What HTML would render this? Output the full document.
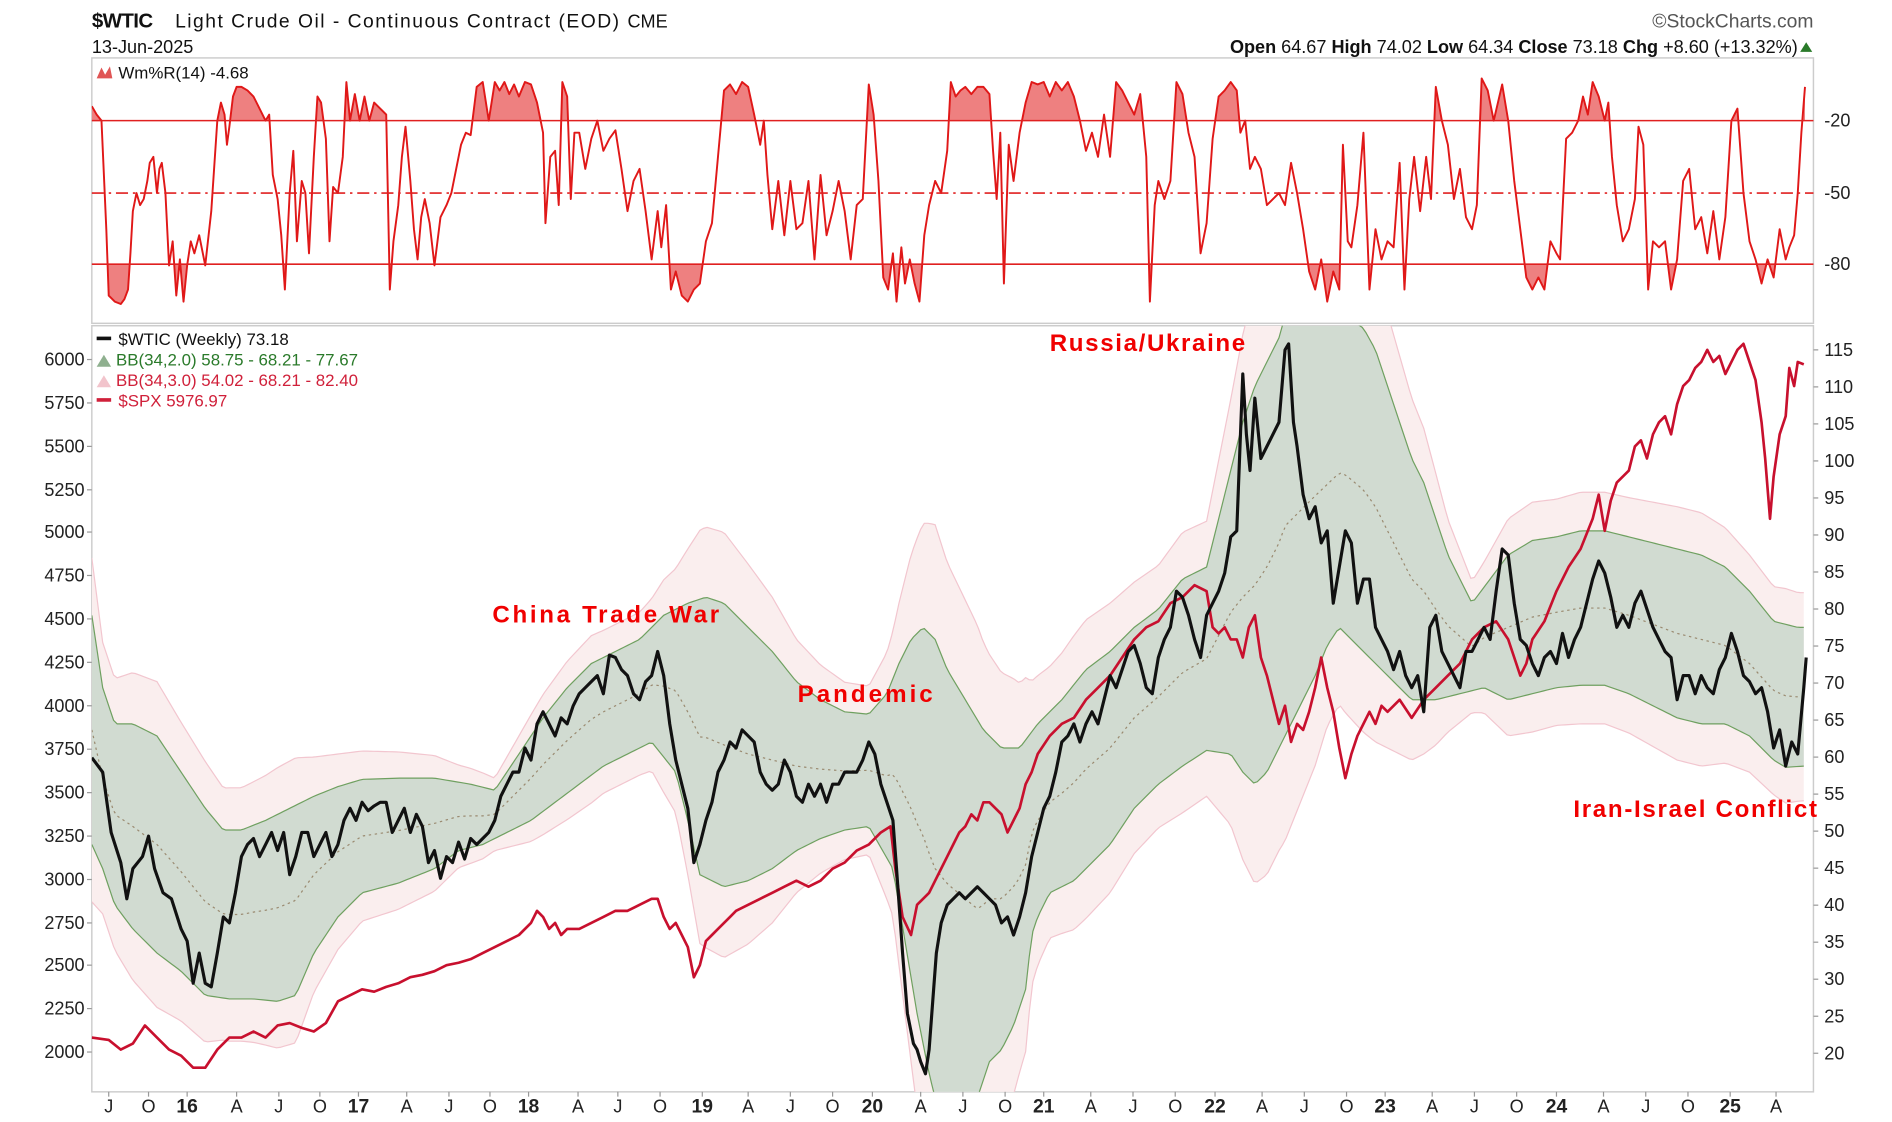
<!DOCTYPE html>
<html><head><meta charset="utf-8"><style>
html,body{margin:0;padding:0;background:#fff;overflow:hidden;width:1892px;height:1122px;}
svg{display:block;font-family:"Liberation Sans",sans-serif;}
</style></head><body>
<svg id="s" width="1892" height="1122" viewBox="0 0 1568 930" xmlns="http://www.w3.org/2000/svg">
<defs>
<clipPath id="cm"><rect x="76" y="270" width="1427" height="635"/></clipPath>
<clipPath id="ct"><rect x="76" y="48" width="1427" height="52"/></clipPath>
<clipPath id="cb"><rect x="76" y="219" width="1427" height="49"/></clipPath>
<clipPath id="cw"><rect x="76" y="48" width="1427" height="220"/></clipPath>
</defs>
<rect width="1568" height="930" fill="#fff"/>
<text x="76" y="23" font-size="17" font-weight="bold" fill="#111" letter-spacing="-0.5">$WTIC</text>
<text x="145" y="23" font-size="16" fill="#111" textLength="368">Light Crude Oil - Continuous Contract (EOD)</text>
<text x="520" y="23" font-size="15" fill="#111">CME</text>
<text x="76" y="44" font-size="15" fill="#111">13-Jun-2025</text>
<text x="1503" y="23" font-size="16" fill="#555" text-anchor="end">©StockCharts.com</text>
<text x="1490" y="44" font-size="15" fill="#111" text-anchor="end"><tspan font-weight="bold">Open</tspan> 64.67  <tspan font-weight="bold">High</tspan> 74.02  <tspan font-weight="bold">Low</tspan> 64.34  <tspan font-weight="bold">Close</tspan> 73.18  <tspan font-weight="bold">Chg</tspan> +8.60 (+13.32%)</text>
<polygon points="1492,43 1502,43 1497,35" fill="#2a7a2a"/>
<rect x="76" y="48" width="1427" height="220" fill="none" stroke="#ccc" stroke-width="1.2"/>
<rect x="76" y="270" width="1427" height="635" fill="none" stroke="#ccc" stroke-width="1.2"/>
<g id="wr"></g>
<line x1="76" y1="100" x2="1503" y2="100" stroke="#e02020" stroke-width="1.3"/>
<line x1="76" y1="219" x2="1503" y2="219" stroke="#e02020" stroke-width="1.3"/>
<line x1="76" y1="160" x2="1503" y2="160" stroke="#e02020" stroke-width="1.3" stroke-dasharray="10,4,2,4"/>
<polygon points="80,65 84,56 87,62 91,55 93,65" fill="#e05555"/>
<text x="98" y="65" font-size="14" fill="#111">Wm%R(14) -4.68</text>
<g font-size="15" fill="#222">
<text x="1512" y="105">-20</text><text x="1512" y="165">-50</text><text x="1512" y="224">-80</text>
</g>
<g id="main" clip-path="url(#cm)"></g>
<g id="axes" font-size="15" fill="#222"></g>
<g font-size="14">
<rect x="80" y="279" width="12" height="3" fill="#111"/><text x="98" y="286" fill="#111">$WTIC (Weekly) 73.18</text>
<polygon points="80,304 86,294 92,304" fill="#8fb08f"/><text x="96" y="303" fill="#2a7a2a">BB(34,2.0) 58.75 - 68.21 - 77.67</text>
<polygon points="80,321 86,311 92,321" fill="#f2c4cc"/><text x="96" y="320" fill="#d0203a">BB(34,3.0) 54.02 - 68.21 - 82.40</text>
<rect x="80" y="330" width="12" height="3" fill="#d0203a"/><text x="98" y="337" fill="#d0203a">$SPX 5976.97</text>
</g>
<g font-size="20" font-weight="bold" fill="#f00000">
<text x="408" y="516" textLength="188">China Trade War</text>
<text x="661" y="582" textLength="112">Pandemic</text>
<text x="870" y="291" textLength="162">Russia/Ukraine</text>
<text x="1304" y="677" textLength="202">Iran-Israel Conflict</text>
</g>
</svg>
<script>
const NS="http://www.w3.org/2000/svg";
function el(p,t,a){const e=document.createElementNS(NS,t);for(const k in a)e.setAttribute(k,a[k]);p.appendChild(e);return e;}
function pts(a){return a.map(p=>p[0]+","+p[1]).join(" ");}
function P(s){const n=s.split(/[ ,]+/).filter(x=>x).map(Number);const r=[];for(let i=0;i<n.length;i+=2)r.push([n[i],n[i+1]]);return r;}
function interp(a,x){if(x<=a[0][0])return a[0][1];for(let i=1;i<a.length;i++){if(x<=a[i][0]){const t=(x-a[i-1][0])/(a[i][0]-a[i-1][0]);return a[i-1][1]+t*(a[i][1]-a[i-1][1]);}}return a[a.length-1][1];}
const wti=P("76,628 85,640 92,690 100,715 105,745 110,720 118,710 123,693 128,720 135,740 142,745 150,770 155,780 160,815 165,790 170,815 175,818 180,790 185,760 190,765 195,740 200,710 205,700 210,695 215,710 220,700 225,690 230,705 235,690 240,725 245,710 250,690 255,690 260,710 265,700 270,690 275,710 280,700 285,680 290,670 295,680 300,665 305,672 310,668 315,665 320,665 325,690 330,680 335,670 340,690 345,675 350,685 355,715 360,705 365,728 370,710 375,715 380,698 385,712 390,695 395,700 400,695 405,690 410,680 415,660 420,650 425,640 430,640 435,620 440,630 445,600 450,590 455,600 460,610 465,595 470,600 475,585 480,575 485,570 490,565 495,560 500,575 505,543 510,545 515,555 520,560 525,575 530,580 535,565 540,560 545,540 550,560 555,600 560,630 565,650 570,670 575,715 580,700 585,680 590,665 595,640 600,630 605,615 610,620 615,605 620,610 625,615 630,640 635,650 640,655 645,650 650,630 655,640 660,660 665,665 670,650 675,660 680,650 685,665 690,650 695,650 700,640 705,640 710,640 715,630 720,615 725,625 730,650 735,665 740,680 743,720 748,790 752,840 757,865 760,870 763,880 767,890 770,870 773,830 776,790 780,765 785,750 790,745 795,740 800,745 805,740 810,735 815,740 820,745 825,750 830,765 835,760 840,775 845,760 850,740 855,710 860,690 865,670 870,660 875,640 880,615 885,610 890,600 895,615 900,600 905,590 910,600 915,580 920,560 925,570 930,555 935,540 940,535 945,550 950,570 955,575 960,545 965,530 970,520 975,490 980,495 985,510 990,530 995,545 1000,510 1005,500 1010,490 1015,475 1020,445 1025,440 1030,310 1033,360 1036,390 1040,330 1045,380 1050,370 1055,360 1060,350 1065,290 1068,285 1072,350 1075,370 1080,410 1085,430 1090,420 1095,450 1100,440 1105,500 1110,470 1115,440 1120,450 1125,500 1130,480 1135,480 1140,520 1145,530 1150,540 1155,555 1160,540 1165,560 1170,570 1175,560 1180,590 1185,520 1190,510 1195,540 1200,550 1205,560 1210,570 1215,540 1220,540 1225,530 1230,520 1235,530 1240,490 1245,455 1250,460 1255,500 1260,530 1265,535 1270,550 1275,560 1280,545 1285,540 1290,550 1295,525 1300,545 1305,530 1310,520 1315,500 1320,480 1325,465 1330,475 1335,495 1340,520 1345,510 1350,520 1355,500 1360,490 1365,505 1370,520 1375,530 1380,540 1385,545 1390,580 1395,560 1400,560 1405,575 1410,560 1415,570 1420,575 1425,555 1430,545 1435,525 1440,540 1445,560 1450,565 1455,575 1460,570 1465,590 1470,620 1475,605 1480,635 1485,615 1490,625 1495,570 1497,545");
const spx=P("76,860 90,862 100,870 110,865 120,850 130,860 140,870 150,875 160,885 170,885 180,870 190,860 200,860 210,855 220,860 230,850 240,848 250,852 260,855 270,848 280,830 290,825 300,820 310,822 320,818 330,815 340,810 350,808 360,805 370,800 380,798 390,795 400,790 410,785 420,780 430,775 440,765 445,755 450,760 455,770 460,765 465,775 470,770 480,770 490,765 500,760 510,755 520,755 530,750 540,745 545,745 550,760 555,770 560,765 565,775 570,785 575,810 580,800 585,780 590,775 595,770 600,765 605,760 610,755 620,750 630,745 640,740 650,735 660,730 670,735 680,730 690,720 700,715 710,705 720,700 730,690 738,685 742,720 748,760 755,775 760,750 765,745 770,740 775,730 780,720 785,710 790,700 795,690 800,685 805,675 810,680 815,665 820,665 825,670 830,675 835,690 840,680 845,670 850,650 855,640 860,625 870,610 880,600 890,595 900,580 910,570 920,560 930,545 940,530 950,520 960,515 970,500 980,495 985,490 990,485 1000,490 1005,520 1010,525 1015,520 1020,530 1025,530 1030,545 1035,520 1040,510 1045,545 1050,560 1055,580 1060,600 1065,585 1070,615 1075,600 1080,605 1085,590 1090,570 1095,545 1100,570 1105,590 1110,620 1115,645 1120,625 1125,610 1130,600 1135,590 1140,600 1145,585 1150,590 1160,580 1170,595 1180,580 1190,570 1200,560 1210,550 1220,530 1230,520 1240,515 1250,530 1255,545 1260,560 1265,550 1270,530 1280,515 1290,490 1300,470 1310,455 1320,430 1325,410 1330,440 1335,415 1340,400 1350,390 1355,370 1360,365 1365,380 1370,360 1375,350 1380,345 1385,360 1390,335 1395,320 1400,315 1405,305 1410,300 1415,290 1420,300 1425,295 1430,310 1435,300 1440,290 1445,285 1450,300 1455,315 1460,350 1463,380 1467,430 1470,395 1475,360 1480,345 1483,305 1487,320 1490,300 1495,302");
const up=P("76,510 85,570 95,600 110,600 130,610 150,640 170,670 185,688 200,688 220,680 240,670 260,660 280,652 300,646 330,645 360,645 390,650 410,655 430,625 450,595 470,570 490,550 510,540 530,530 550,510 570,500 585,495 600,500 620,520 640,540 660,565 680,580 700,590 720,592 735,575 745,550 755,530 765,520 775,530 785,555 800,580 815,605 830,620 845,620 860,600 880,580 900,555 920,540 940,520 960,505 980,480 1000,470 1010,430 1020,390 1030,350 1040,320 1050,300 1060,280 1065,262 1090,262 1100,268 1115,262 1130,272 1140,290 1150,320 1160,350 1170,380 1180,400 1190,430 1200,460 1210,480 1220,500 1235,480 1250,460 1270,448 1290,445 1310,440 1330,440 1350,445 1370,450 1390,455 1410,460 1430,470 1450,490 1470,515 1490,520 1495,520");
const lo=P("76,700 85,720 95,750 110,770 130,790 150,805 170,825 190,828 210,828 230,830 245,825 260,790 280,760 300,740 330,732 360,720 380,705 400,700 420,690 440,680 460,665 480,650 500,635 520,625 540,615 560,640 570,680 580,725 600,735 620,730 640,720 660,705 680,695 700,688 720,685 740,720 750,780 760,840 770,890 775,910 810,910 820,880 830,870 840,850 850,820 855,775 860,760 870,740 880,735 890,730 900,720 910,710 920,700 940,670 960,650 980,635 1000,622 1020,625 1030,640 1040,650 1050,640 1060,620 1070,600 1080,580 1090,560 1100,535 1110,520 1130,540 1150,560 1170,580 1190,580 1210,575 1230,570 1250,580 1270,575 1290,570 1310,568 1330,568 1350,575 1370,585 1390,595 1410,600 1430,600 1450,610 1470,630 1480,636 1495,635");
const xs=[];for(let x=76;x<=1497;x+=3)xs.push(x);
const U=[],L=[],M=[],U3=[],L3=[];
xs.forEach(x=>{const u=interp(up,x),l=interp(lo,x),m=(u+l)/2,h=(l-u)/2;U.push([x,u]);L.push([x,l]);M.push([x,m]);U3.push([x,m-1.5*h]);L3.push([x,m+1.5*h]);});
const g=document.getElementById("main");
el(g,"polygon",{points:pts(U3.concat(L3.slice().reverse())),fill:"#faeeee",stroke:"none"});
el(g,"polyline",{points:pts(U3),fill:"none",stroke:"#f2c6cf","stroke-width":1});
el(g,"polyline",{points:pts(L3),fill:"none",stroke:"#f2c6cf","stroke-width":1});
el(g,"polygon",{points:pts(U.concat(L.slice().reverse())),fill:"#d1dbd1",stroke:"none"});
el(g,"polyline",{points:pts(U),fill:"none",stroke:"#6fa060","stroke-width":1});
el(g,"polyline",{points:pts(L),fill:"none",stroke:"#6fa060","stroke-width":1});
el(g,"polyline",{points:pts(M),fill:"none",stroke:"#9a8a70","stroke-width":1,"stroke-dasharray":"2,3"});
el(g,"polyline",{points:pts(spx),fill:"none",stroke:"#c8102e","stroke-width":2.2,"stroke-linejoin":"round"});
el(g,"polyline",{points:pts(wti),fill:"none",stroke:"#111","stroke-width":2.6,"stroke-linejoin":"round"});
const wr=P("76,88 80,95 84,100 88,190 90,245 95,250 100,252 103,248 106,240 108,210 110,175 113,160 116,170 119,165 122,150 124,135 127,130 130,160 132,140 134,135 137,160 140,220 143,200 146,245 149,215 152,250 155,220 158,200 161,210 165,195 170,220 175,175 180,100 183,85 186,95 188,120 190,105 193,80 196,72 200,72 205,75 210,80 215,90 220,100 223,95 226,145 230,165 233,195 236,240 240,160 243,125 246,200 250,150 253,160 256,210 260,130 263,80 266,85 270,115 273,200 276,155 280,160 284,130 287,68 290,100 294,78 298,100 302,80 306,100 310,85 315,90 320,95 323,240 326,200 330,170 333,130 336,105 340,150 343,190 346,215 349,180 352,165 356,185 360,220 365,180 370,170 374,160 378,140 382,120 386,110 390,112 395,72 400,68 405,100 410,68 414,75 418,68 422,78 426,70 430,80 435,68 440,70 445,85 450,110 452,185 456,130 460,125 463,170 466,68 470,80 473,165 476,110 480,110 485,140 490,115 495,100 500,125 505,115 510,108 515,140 520,175 525,150 530,140 535,175 540,215 545,175 548,205 552,170 556,240 560,225 565,245 570,250 575,240 580,235 585,200 590,185 595,130 600,75 605,70 610,78 615,68 620,72 625,95 630,120 633,100 636,145 640,190 645,150 650,195 655,150 660,190 665,185 670,150 675,215 680,145 685,195 690,175 695,150 700,175 705,215 710,170 715,165 720,70 724,95 728,150 732,230 736,240 740,210 743,250 747,205 750,235 754,215 758,235 762,250 766,195 770,170 775,150 780,160 785,125 788,68 792,80 796,75 800,72 805,78 810,72 815,72 820,78 823,125 826,165 829,110 832,235 836,120 840,150 845,110 850,85 855,68 860,70 865,68 870,80 875,68 880,75 885,68 890,80 895,100 900,125 905,110 910,130 915,95 920,130 925,68 930,75 935,85 940,95 945,78 950,130 953,250 957,170 960,150 965,165 970,150 975,68 980,78 985,110 990,130 995,210 1000,185 1005,115 1010,80 1015,75 1020,68 1025,75 1028,110 1032,100 1036,140 1040,130 1045,140 1050,170 1055,165 1060,160 1065,170 1070,135 1075,160 1080,190 1085,225 1090,240 1095,215 1100,250 1105,225 1110,240 1113,120 1117,200 1120,205 1125,170 1130,110 1135,240 1140,190 1145,215 1150,200 1155,205 1160,135 1164,240 1168,165 1172,130 1177,175 1182,130 1186,165 1190,72 1195,100 1200,120 1205,165 1210,140 1215,180 1220,190 1224,170 1228,65 1233,75 1238,100 1245,70 1250,100 1255,150 1260,190 1265,230 1270,240 1275,230 1280,240 1285,200 1290,210 1293,215 1298,115 1303,110 1308,100 1312,80 1316,95 1320,68 1325,80 1330,100 1333,85 1336,130 1340,170 1345,200 1350,190 1355,165 1358,105 1362,120 1366,240 1370,200 1375,205 1380,200 1385,240 1390,215 1395,150 1400,140 1405,190 1410,180 1415,210 1420,175 1425,215 1430,180 1435,100 1440,90 1445,160 1450,200 1455,215 1460,235 1465,215 1470,230 1475,190 1480,215 1483,205 1487,195 1490,160 1493,110 1496,72");
const w=document.getElementById("wr");
const last=wr[wr.length-1][0],first=wr[0][0];
el(w,"polygon",{points:pts([[first,100]].concat(wr,[[last,100]])),fill:"#ee8080","clip-path":"url(#ct)"});
el(w,"polygon",{points:pts([[first,219]].concat(wr,[[last,219]])),fill:"#ee8080","clip-path":"url(#cb)"});
el(w,"polyline",{points:pts(wr),fill:"none",stroke:"#e01818","stroke-width":1.6,"clip-path":"url(#cw)","stroke-linejoin":"round"});
const ax=document.getElementById("axes");
const lv=[[6000,298],[5750,334],[5500,370],[5250,406],[5000,441],[4750,477],[4500,513],[4250,549],[4000,585],[3750,621],[3500,657],[3250,693],[3000,729],[2750,765],[2500,800],[2250,836],[2000,872]];
lv.forEach(([v,y])=>{const t=el(ax,"text",{x:70,y:y+5,"text-anchor":"end"});t.textContent=v;el(ax,"line",{x1:72,y1:y,x2:76,y2:y,stroke:"#999"});});
for(let v=115;v>=20;v-=5){const y=290+(115-v)*6.137;const t=el(ax,"text",{x:1512,y:y+5});t.textContent=v;el(ax,"line",{x1:1503,y1:y,x2:1507,y2:y,stroke:"#999"});}
const xl=[["J",90],["O",123],["16",155],["A",196],["J",231],["O",265],["17",297],["A",337],["J",372],["O",406],["18",438],["A",479],["J",512],["O",547],["19",582],["A",620],["J",655],["O",690],["20",723],["A",763],["J",798],["O",833],["21",865],["A",904],["J",939],["O",974],["22",1007],["A",1046],["J",1081],["O",1116],["23",1148],["A",1187],["J",1222],["O",1257],["24",1290],["A",1329],["J",1364],["O",1399],["25",1434],["A",1472]];
xl.forEach(([s,x])=>{const t=el(ax,"text",{x:x,y:922,"text-anchor":"middle","font-weight":/\d/.test(s)?"bold":"normal","font-size":/\d/.test(s)?16:15});t.textContent=s;el(ax,"line",{x1:x,y1:905,x2:x,y2:909,stroke:"#999"});});
</script>
</body></html>
